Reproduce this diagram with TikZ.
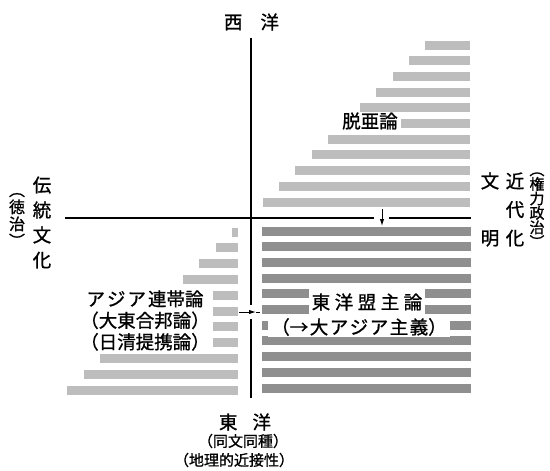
\documentclass[tikz,border=0pt]{standalone}
\usepackage{fontspec}
\newfontfamily\jp[FakeBold=1]{Noto Sans CJK JP}
\usetikzlibrary{arrows.meta}
\begin{document}
\begin{tikzpicture}[x=1pt,y=-1pt,
  lbl/.style={font=\jp\fontsize{18.5}{20}\selectfont, inner sep=0pt},
  sm/.style={font=\jp\fontsize{15}{17}\selectfont, inner sep=0pt},
  axis/.style={line width=1.4pt},
  light/.style={fill=black!26},
  dark/.style={fill=black!44},
  wbox/.style={fill=white, inner xsep=3pt, inner ysep=0.5pt},
  arr/.style={line width=1pt, -{Latex[length=7pt,width=4.5pt]}}]
\useasboundingbox (0,0) rectangle (550,471);

% upper-right stripes
\foreach \i in {0,...,10}{
  \pgfmathsetmacro\yc{45+15.7*\i}
  \pgfmathsetmacro\xl{425-16.2*\i}
  \fill[light] (\xl,\yc-4.5) rectangle (470,\yc+4.5);
}
% lower-left stripes
\foreach \i in {0,...,10}{
  \pgfmathsetmacro\yc{232+15.8*\i}
  \pgfmathsetmacro\xl{232-16.5*\i}
  \fill[light] (\xl,\yc-4.5) rectangle (238,\yc+4.5);
}
% lower-right stripes
\foreach \i in {0,...,10}{
  \pgfmathsetmacro\yc{231+15.7*\i}
  \fill[dark] (262,\yc-4.5) rectangle (471,\yc+4.5);
}

% text on stripes
\node[lbl, wbox] (datsua) at (370,121) {脱亜論};
\node[lbl, wbox, align=center, font=\jp\fontsize{18.5}{21.5}\selectfont] (asia) at (145,320.5)
  {ア\hspace{2pt}ジ\hspace{2pt}ア\hspace{2pt}連帯論\\（大東合邦論）\\（日清提携論）};
\node[lbl, wbox, minimum height=26pt] (toyo1) at (367,302)
  {東\hspace{4.5pt}洋\hspace{4.5pt}盟\hspace{4.5pt}主\hspace{4.5pt}論};
\node[lbl, wbox, minimum height=19pt] (toyo2) at (359,327)
  {（→\hspace{1.5pt}大\hspace{1.5pt}ア\hspace{1.5pt}ジ\hspace{1.5pt}ア\hspace{1.5pt}主\hspace{1.5pt}義）};

% axes
\coordinate (N) at (251,38);
\coordinate (S) at (251,398);
\coordinate (W) at (65,218);
\coordinate (E) at (471,218);
\coordinate (vg1) at (251,305);
\coordinate (vg2) at (251,319);
\coordinate (hg1) at (374,218);
\coordinate (hg2) at (389,218);
\draw[axis] (N) -- (vg1);
\draw[axis] (vg2) -- (S);
\draw[axis] (W) -- (hg1);
\draw[axis] (hg2) -- (E);

% arrows
\coordinate (da1) at (382,209);
\coordinate (da2) at (382,226);
\draw[arr] (da1) -- (da2);
\coordinate (ra1) at (239,312);
\coordinate (ra2) at (256,312);
\coordinate (ra3) at (260,312);
\draw[arr] (ra1) -- (ra2);
\draw[line width=1pt] (ra2) -- (ra3);

% axis labels
\node[lbl] (west) at (251.5,22) {西\hspace{18pt}洋};
\node[lbl] (east) at (245,422) {東\hspace{15pt}洋};
\node[sm] (eastp1) at (243,441) {（同文同種）};
\node[sm] (eastp2) at (234,460) {（地理的近接性）};

\node[lbl, align=center, font=\jp\fontsize{18.5}{25}\selectfont] (trad) at (42,222.5) {伝\\統\\文\\化};
\node[sm, align=center, font={\jp\fontsize{16}{17}\selectfont\lineskiplimit=-10pt}] (toku) at (17,220) {︵\\徳\\治\\︶};

\node[lbl, align=center, font=\jp\fontsize{18.5}{28.5}\selectfont] (kindai) at (515,209.5) {近\\代\\化};
\node[lbl, align=center, font=\jp\fontsize{18.5}{57}\selectfont] (bunmei) at (490,209.5) {文\\明};
\node[sm, align=center, font={\jp\fontsize{15}{14.5}\selectfont\lineskiplimit=-10pt}] (kenryoku) at (537,210) {︵\\権\\力\\政\\治\\︶};
\end{tikzpicture}
\end{document}
